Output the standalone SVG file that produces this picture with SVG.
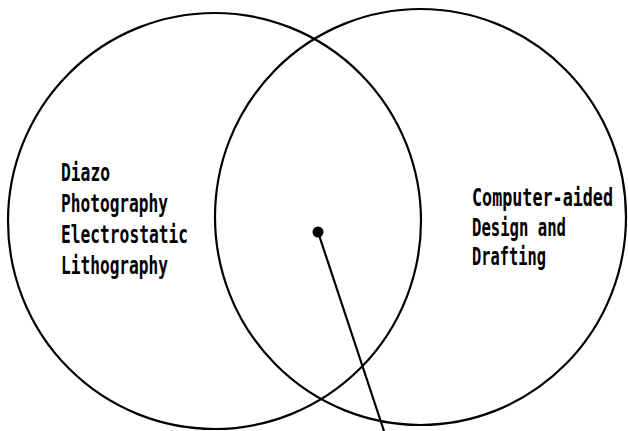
<svg xmlns="http://www.w3.org/2000/svg" width="628" height="431" viewBox="0 0 628 431">
  <style>
    .set { fill: none; stroke: #000; stroke-width: 2.2; }
    .lbl { font-family: "DejaVu Sans Mono", "Liberation Mono", monospace; font-size: 25px; font-weight: bold; fill: #000; }
    .lead { stroke: #000; stroke-width: 2.2; fill: none; }
  </style>
  <rect width="628" height="431" fill="#fff"/>
  <g id="set-reproduction">
    <ellipse class="set" cx="214.5" cy="221" rx="206.5" ry="208"/>
    <text class="lbl" x="61" y="181" textLength="49" lengthAdjust="spacingAndGlyphs">Diazo</text>
    <text class="lbl" x="61" y="212" textLength="107" lengthAdjust="spacingAndGlyphs">Photography</text>
    <text class="lbl" x="61" y="243" textLength="127" lengthAdjust="spacingAndGlyphs">Electrostatic</text>
    <text class="lbl" x="61" y="274" textLength="107" lengthAdjust="spacingAndGlyphs">Lithography</text>
  </g>
  <g id="set-cadd">
    <ellipse class="set" cx="420.5" cy="217" rx="205.5" ry="208"/>
    <text class="lbl" x="472" y="206" textLength="141" lengthAdjust="spacingAndGlyphs">Computer-aided</text>
    <text class="lbl" x="472" y="236" textLength="94" lengthAdjust="spacingAndGlyphs">Design and</text>
    <text class="lbl" x="472" y="265" textLength="74" lengthAdjust="spacingAndGlyphs">Drafting</text>
  </g>
  <g id="connectors">
    <circle cx="318" cy="232" r="5.5" fill="#000"/>
    <line class="lead" x1="318" y1="232" x2="384" y2="431"/>
  </g>
</svg>
